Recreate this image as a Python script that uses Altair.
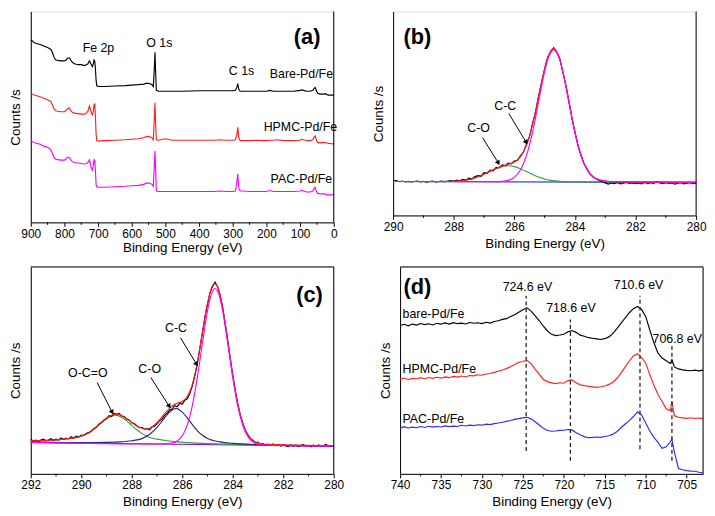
import altair as alt
import pandas as pd

FONT = "Liberation Sans"
W = 306
HA = 213
H1 = 206
H2 = 209

# ---------------- Panel (a): survey spectra ----------------
a_be = [900, 895, 890, 880, 870, 860, 850, 845, 840, 835, 830, 825, 820, 810, 800, 795, 790, 785, 780, 775,
        770, 760, 750, 740, 735, 730, 726, 724, 720, 717, 714, 712, 710, 708, 706, 704, 700, 680, 650, 620,
        600, 580, 565, 555, 545, 540, 536, 533, 531, 529, 527, 520, 500, 480, 450, 400, 350, 340, 320, 300,
        292, 288, 285, 282, 278, 270, 250, 230, 200, 190, 180, 170, 150, 120, 100, 95, 90, 80, 70, 62,
        58, 55, 52, 48, 40, 30, 25, 20, 15, 10, 5, 0]
a_bare = [192, 191, 189, 188, 187, 185.5, 184, 183, 182, 178, 173, 171, 170.5, 170, 170, 171, 173, 173, 170, 168,
          167, 166, 166, 165, 166, 167, 170, 169, 166, 164, 167, 171, 170, 162, 150, 144, 143, 143, 143.5, 144,
          144.5, 145, 145.5, 146.5, 146, 145, 143, 162, 179, 157, 139, 138, 138, 138, 138, 138.5, 138.5, 138.5, 138.5, 138.5,
          139, 142, 146, 140, 138, 138, 138, 138, 138, 139, 138, 138, 138, 138, 139, 139.5, 139, 138, 138, 139,
          141, 142, 139, 136, 135, 135, 135.5, 134.5, 134, 134, 134, 134]
a_hpmc = [136, 135, 134, 133, 132, 130.5, 129, 128, 127, 123, 119, 117.5, 117, 116.5, 116.5, 118, 120, 120.5, 117, 115.5,
          115, 114.5, 114, 114, 115, 117, 122.5, 121, 115, 113, 117, 124, 124.5, 112, 93, 86, 85.5, 86, 86.5, 87,
          87.5, 88, 89, 90.5, 90, 89, 87, 110, 126, 103, 87, 86.5, 88, 86.5, 86.5, 86.5, 86.5, 87, 86.5, 86.5,
          87, 92, 100, 89, 86, 86, 86, 86.5, 86, 86.5, 86.5, 87, 86, 86, 86.5, 87.5, 87, 86, 86, 87,
          90, 91, 87, 84, 84, 84, 84, 83.5, 83, 83, 82.5, 83]
a_pac = [86, 85, 84, 83, 82, 80, 79, 78, 76, 72, 68, 66.5, 66, 65.5, 65.5, 67, 68.5, 68, 65, 63.5,
         63, 62.5, 62, 61.5, 62, 63, 66, 64, 57, 55, 60, 66, 65.5, 55, 40, 37.5, 37, 37, 37.5, 38,
         38.5, 39, 40, 41.5, 41, 40, 38, 60, 75, 55, 33, 32.5, 32.5, 32.5, 32.5, 32.5, 32.5, 33, 32.5, 32.5,
         33, 42, 51, 36, 33, 33, 32.5, 32.5, 32.5, 33.5, 32.5, 32.5, 32.5, 32.5, 33, 34, 33, 32, 32, 33,
         36, 37, 33, 30.5, 30, 30, 30, 29, 29, 29, 29, 29.5]
a_ticks = [0, 100, 200, 300, 400, 500, 600, 700, 800, 900]
a_minor = [50, 150, 250, 350, 450, 550, 650, 750, 850]
a_lbl_x = [699, 518, 274, 96, 99, 96]
a_lbl_y = [184, 189, 159, 156, 100, 46]
a_lbl_t = ["Fe 2p", "O 1s", "C 1s", "Bare-Pd/Fe", "HPMC-Pd/Fe", "PAC-Pd/Fe"]

# ---------------- Panel (b): C 1s ----------------
b_data_x = [round(290 - 0.1 * i, 1) for i in range(101)]
b_data_y = [35.8, 36.3, 35.2, 35.9, 35.0, 35.6, 34.9, 35.4, 36.0, 35.1, 35.7, 34.8, 35.5, 35.9, 35.0, 35.4, 36.0, 35.3, 35.8, 36.4, 35.6,
            37.0, 36.2, 37.8, 36.9, 38.9, 38.0, 40.6, 41.5, 40.9, 44.8,
            44.0, 47.3, 46.5, 50.2, 49.6, 52.8, 52.0, 54.6, 53.8, 56.9,
            57.5, 62.3, 66.0, 74.5, 82.0, 95.8, 108.0, 124.5, 139.0, 152.8,
            165.2, 170.6, 175.0, 170.2, 164.0, 149.4, 136.2, 119.8, 101.5, 87.4,
            73.0, 63.5, 54.0, 48.6, 43.2, 40.0, 38.4, 36.5, 35.2, 34.0,
            32.8, 33.9, 33.2, 34.3, 33.0, 33.7, 34.5, 33.4, 34.0, 33.1,
            33.8, 32.9, 34.4, 33.3, 34.1, 33.5, 35.2, 34.0, 33.2, 34.2,
            33.4, 33.9, 32.8, 33.6, 34.2, 33.0, 33.7, 34.3, 33.2, 33.8]
b_env_x = [290, 288.4, 288.0, 287.6, 287.4, 287.2, 287.0, 286.8, 286.6, 286.4, 286.2, 286.0, 285.8, 285.6, 285.4, 285.2,
           285.0, 284.9, 284.8, 284.7, 284.6, 284.5, 284.4, 284.2, 284.0, 283.8, 283.6, 283.4, 283.2, 283.0, 282.8, 282.5, 280]
b_env_y = [35.5, 35.4, 35.7, 36.9, 38.3, 40.4, 43.1, 46.1, 49.1, 51.5, 53.4, 55.7, 61.1, 73.2, 94.6, 123.8,
           153.3, 164.7, 171.9, 174.2, 171.1, 163.0, 150.6, 118.9, 86.8, 62.4, 47.9, 40.4, 37.3, 36.0, 35.4, 35.0, 34.5]
b_cc_x = [290, 286.6, 286.4, 286.2, 286.0, 285.8, 285.6, 285.4, 285.2, 285.0, 284.9, 284.8, 284.7, 284.6, 284.5, 284.4,
          284.2, 284.0, 283.8, 283.6, 283.4, 283.2, 283.0, 282.8, 282.5, 280]
b_cc_y = [35.5, 35.3, 35.6, 36.6, 39.8, 47.4, 62.4, 86.8, 118.7, 150.3, 162.4, 170.3, 173.0, 170.3, 162.4, 150.3,
          118.7, 86.8, 62.4, 47.9, 40.4, 37.3, 36.0, 35.4, 35.0, 34.5]
b_co_x = [290, 288.4, 288.2, 288.0, 287.8, 287.6, 287.4, 287.2, 287.0, 286.8, 286.6, 286.4, 286.2, 286.0, 285.8, 285.6,
          285.4, 285.2, 285.0, 284.8, 284.6, 284.4, 284.0, 280]
b_co_y = [35.5, 35.35, 35.45, 35.66, 36.1, 36.9, 38.3, 40.4, 43.1, 46.1, 49.0, 51.1, 51.9, 51.0, 48.8, 45.9,
          42.8, 40.1, 38.0, 36.6, 35.8, 35.3, 35.0, 34.5]
b_base_x = [290, 280]
b_base_y = [35.5, 34.5]
b_ticks = [280, 282, 284, 286, 288, 290]
b_minor = [281, 283, 285, 287, 289]
b_lbl_x = [286.3, 287.18]
b_lbl_y = [114, 91]
b_lbl_t = ["C-C", "C-O"]
b_arr_x = [286.18, 287.05]
b_arr_y = [106.3, 81.3]
b_arr_x2 = [285.62, 286.54]
b_arr_y2 = [77.0, 55.5]
b_head_ang = [150, 152]

# ---------------- Panel (c): C 1s ----------------
c_data_x = [round(292 - 0.1 * i, 1) for i in range(121)]
c_data_y = [34.5, 33.0, 33.8, 32.6, 33.9, 34.8, 33.2, 34.0, 35.3, 33.6, 34.9,
            34.0, 36.2, 34.6, 36.0, 35.1, 37.4, 36.0, 37.8, 36.9, 39.0,
            38.4, 40.9, 41.4, 43.0, 45.6, 47.0, 50.1, 51.5, 53.9, 55.6,
            58.4, 57.8, 60.9, 59.6, 60.7, 58.1, 57.7, 55.0, 54.2, 51.3,
            50.6, 48.4, 46.4, 46.8, 44.9, 45.6, 44.3, 47.1, 47.9, 50.2,
            53.4, 55.0, 59.0, 60.8, 64.3, 65.2, 68.6, 67.5, 70.8, 70.2,
            73.9, 75.5, 81.0, 88.2, 98.6, 111.0, 126.4, 141.5, 157.8, 170.2,
            182.3, 188.4, 192.6, 188.0, 179.6, 167.5, 151.0, 134.6, 116.3, 99.4,
            83.6, 70.5, 58.9, 50.9, 43.6, 39.5, 35.4, 33.8, 31.4, 31.9,
            29.6, 30.4, 28.7, 29.9, 28.5, 30.1, 28.2, 29.5, 27.9, 29.3,
            28.1, 27.4, 29.0, 27.7, 28.9, 27.3, 28.6, 29.4, 27.8, 28.5,
            27.2, 28.8, 27.6, 29.1, 27.9, 28.4, 29.6, 27.5, 28.3, 27.4]
c_env_x = [292.0, 291.8, 291.6, 291.4, 291.2, 291.0, 290.8, 290.6, 290.4, 290.2,
           290.0, 289.8, 289.6, 289.4, 289.2, 289.0, 288.8, 288.6, 288.4, 288.2,
           288.0, 287.8, 287.6, 287.4, 287.2, 287.0, 286.8, 286.6, 286.4, 286.2,
           286.0, 285.8, 285.6, 285.4, 285.2, 285.0, 284.8, 284.7, 284.6, 284.4,
           284.2, 284.0, 283.8, 283.6, 283.4, 283.2, 283.0, 282.8, 282.6, 282.4,
           282.2, 282.0, 281.6, 281.2, 280.8, 280.4, 280.0]
c_env_y = [33.2, 33.3, 33.4, 33.65, 33.8, 34.2, 34.6, 35.2, 35.97, 36.7,
           38.1, 40.1, 43.35, 47.4, 52.0, 56.15, 58.9, 60.1, 58.5, 55.5,
           51.7, 48.1, 45.9, 45.0, 47.3, 51.5, 57.3, 63.3, 68.2, 70.9,
           72.8, 77.7, 90.0, 112.4, 142.5, 171.5, 189.3, 191.1, 188.0, 167.2,
           134.0, 99.0, 70.0, 50.25, 38.8, 33.3, 31.0, 30.0, 29.6, 29.4,
           29.2, 29.1, 28.9, 28.7, 28.6, 28.4, 28.2]
c_oco_x = [292, 291.5, 291, 290.5, 290.2, 290, 289.8, 289.6, 289.4, 289.2, 289.0, 288.8, 288.65, 288.4, 288.2,
           288.0, 287.8, 287.6, 287.4, 287.2, 287.0, 286.6, 286.2, 285.6, 285, 284, 283, 282, 280]
c_oco_y = [33.0, 33.3, 34.0, 35.3, 36.4, 37.8, 39.7, 42.9, 46.9, 51.4, 55.5, 58.0, 59.1, 56.8, 53.3,
           48.8, 44.3, 40.7, 37.8, 36.0, 34.9, 33.3, 32.2, 31.1, 30.5, 29.7, 29.2, 28.75, 28.0]
c_co_x = [292, 290, 289, 288.5, 288.0, 287.6, 287.3, 287.0, 286.8, 286.6, 286.4, 286.25, 286.0, 285.8, 285.6,
          285.4, 285.2, 285.0, 284.8, 284.5, 284.0, 283.0, 282, 280]
c_co_y = [31.9, 31.4, 31.65, 32.1, 33.3, 35.4, 39.5, 46.6, 53.1, 59.6, 64.1, 65.8, 62.1, 56.2, 49.4,
          43.3, 38.8, 35.5, 33.7, 32.1, 30.6, 29.3, 28.65, 27.9]
c_cc_x = [292, 287, 286.4, 286.2, 286.0, 285.8, 285.6, 285.4, 285.2, 285.0, 284.9, 284.8, 284.7, 284.6, 284.5,
          284.4, 284.2, 284.0, 283.8, 283.6, 283.4, 283.2, 283.0, 282.6, 280]
c_cc_y = [31.7, 30.0, 31.0, 33.1, 38.3, 49.3, 68.7, 97.2, 131.6, 163.9, 175.9, 183.6, 186.3, 183.5, 175.8,
          163.7, 131.3, 96.7, 68.1, 48.6, 37.4, 32.1, 29.9, 28.7, 27.7]
c_base_x = [292, 280]
c_base_y = [31.7, 27.7]
c_ticks = [280, 282, 284, 286, 288, 290, 292]
c_minor = [281, 283, 285, 287, 289, 291]
c_lbl_x = [286.25, 287.29, 289.74]
c_lbl_y = [146.7, 105.7, 101.7]
c_lbl_t = ["C-C", "C-O", "O-C=O"]
c_arr_x = [286.07, 287.24, 289.37]
c_arr_y = [136.7, 96.7, 91.7]
c_arr_x2 = [285.45, 286.53, 288.79]
c_arr_y2 = [110.9, 68.5, 62.6]
c_head_ang = [148, 147, 152]

# ---------------- Panel (d): Fe 2p ----------------
d_be = [740, 739.5, 739, 738.5, 738, 737.5, 737, 736.5, 736, 735.5, 735, 734.5, 734, 733.5, 733, 732.5, 732, 731.5,
        731, 730.5, 730, 729.5, 729, 728.5, 728, 727.5, 727, 726.5, 726, 725.5, 725, 724.5, 724, 723.5, 723, 722.5,
        722, 721.5, 721, 720.5, 720, 719.5, 719, 718.5, 718, 717.5, 717, 716.5, 716, 715.5, 715, 714.5, 714, 713.5,
        713, 712.5, 712, 711.5, 711, 710.5, 710, 709.5, 709, 708.5, 708, 707.5, 707, 706.8, 706.5, 706, 705.5, 705,
        704.5, 704, 703.5, 703]
d_bare = [150.5, 151.8, 150.2, 152.0, 151.0, 152.6, 151.4, 152.3, 151.1, 152.8,
          151.9, 153.2, 152.0, 153.5, 152.4, 153.0, 152.1, 153.6, 152.8, 153.3,
          152.5, 153.8, 153.0, 154.6, 155.4, 156.8, 157.5, 159.6, 161.4, 164.0,
          166.5, 168.5, 165.2, 160.4, 155.6, 149.8, 145.0, 141.6, 140.3, 140.9,
          141.7, 144.2, 145.4, 143.6, 140.8, 139.6, 138.2, 137.6, 137.0, 136.4,
          137.2, 139.0, 142.5, 147.6, 153.0, 158.4, 163.5, 167.6, 169.8, 166.8,
          159.5, 146.0, 133.0, 122.5, 117.5, 114.8, 112.0, 115.8, 108.5, 106.5,
          105.5, 105.0, 104.6, 105.2, 104.5, 105.3]
d_hpmc = [96.0, 97.2, 95.8, 96.9, 96.3, 97.6, 96.5, 97.8, 96.9, 98.0,
          97.1, 98.4, 97.6, 98.9, 98.2, 99.3, 98.6, 99.8, 99.4, 100.6,
          100.1, 101.4, 101.8, 103.0, 104.2, 105.4, 106.8, 108.8, 110.9, 113.2,
          114.0, 115.2, 111.8, 106.0, 101.0, 95.8, 93.6, 92.3, 91.6, 92.4,
          92.0, 94.6, 95.3, 92.4, 90.3, 89.6, 88.8, 88.3, 87.8, 88.4,
          89.2, 90.8, 93.0, 97.0, 102.5, 108.6, 114.5, 119.6, 122.0, 118.0,
          112.6, 100.5, 90.0, 80.5, 73.5, 66.0, 64.2, 73.5, 59.0, 57.5,
          56.8, 56.3, 56.9, 56.2, 56.7, 56.0]
d_pac = [46.7, 47.9, 46.5, 47.4, 46.8, 48.0, 47.1, 48.3, 47.4, 48.0,
         47.6, 48.7, 47.9, 48.5, 48.1, 49.3, 48.6, 49.5, 49.0, 49.8,
         49.4, 50.5, 50.0, 51.0, 51.6, 52.4, 53.3, 54.2, 55.3, 56.0,
         56.8, 57.4, 55.8, 52.8, 49.6, 46.2, 44.0, 43.2, 43.5, 44.1,
         44.3, 45.0, 44.6, 41.8, 39.6, 37.8, 36.7, 37.0, 37.4, 37.0,
         37.9, 38.6, 40.3, 43.0, 47.0, 50.6, 54.0, 58.2, 63.0, 59.5,
         51.5, 43.5, 37.0, 32.0, 26.0, 27.5, 32.5, 35.0, 22.0, 5.5,
         4.2, 3.3, 2.8, 2.6, 1.6, 0.8]
d_ticks = [705, 710, 715, 720, 725, 730, 735, 740]
d_minor = [707.5, 712.5, 717.5, 722.5, 727.5, 732.5, 737.5]
d_dash_x = [724.6, 719.2, 710.7, 706.8]
d_dash_y1 = [23.3, 13.3, 25.0, 13.3]
d_dash_y2 = [180.7, 156.7, 180.7, 131.7]
d_peak_x = [724.44, 719.13, 710.87, 706.15]
d_peak_y = [189.3, 168.3, 191.7, 136.7]
d_peak_t = ["724.6 eV", "718.6 eV", "710.6 eV", "706.8 eV"]
d_ser_x = [739.7, 739.7, 739.7]
d_ser_y = [161.7, 106.0, 55.7]
d_ser_t = ["bare-Pd/Fe", "HPMC-Pd/Fe", "PAC-Pd/Fe"]

BLACK = "#000000"
RED = "#ff1f1f"
MAG = "#ff00ff"
GREEN = "#3c9a3c"
NAVY = "#22229a"
BLUE = "#2a2aff"
PURPLE = "#7a10e0"
LW = 1.15


def xenc(dom, ticks, tpad=4):
    return alt.X("x:Q", scale=alt.Scale(domain=dom, reverse=True, nice=False, zero=False),
                 axis=alt.Axis(values=ticks, format="d", title="Binding Energy (eV)", grid=False,
                               tickSize=4, tickColor="black", domainColor="black", labelColor="black",
                               titleColor="black", labelFont=FONT, titleFont=FONT, labelFontSize=12,
                               titleFontSize=13.5, titleFontWeight="normal", labelPadding=2,
                               titlePadding=tpad, labelFlush=False, labelOverlap=False))


def yenc(dom):
    return alt.Y("y:Q", scale=alt.Scale(domain=dom, nice=False, zero=False),
                 axis=alt.Axis(title="Counts /s", labels=False, ticks=False, grid=False,
                               domainColor="black", titleColor="black", titleFont=FONT,
                               titleFontSize=13.5, titleFontWeight="normal", titlePadding=8))


def line(xs, ys, color, X, Y, interp="linear", sw=LW):
    df = pd.DataFrame({"x": xs, "y": ys})
    return alt.Chart(df).mark_line(color=color, strokeWidth=sw, interpolate=interp).encode(x=X, y=Y)


def texts(xs, ys, ts, X, Y, size=12.5, align="center", bold=False):
    df = pd.DataFrame({"x": xs, "y": ys, "t": ts})
    return alt.Chart(df).mark_text(font=FONT, fontSize=size, align=align, baseline="middle",
                                   color="black", fontWeight="bold" if bold else "normal").encode(
        x=X, y=Y, text="t:N")


def arrows(x1, y1, x2, y2, ang, X, Y):
    df = pd.DataFrame({"x": x1, "y": y1, "x2": x2, "y2": y2, "a": ang})
    shaft = alt.Chart(df).mark_rule(color="black", strokeWidth=1).encode(
        x=X, y=Y, x2="x2:Q", y2="y2:Q")
    df2 = pd.DataFrame({"x": x2, "y": y2, "a": ang})
    head = alt.Chart(df2).mark_point(shape="triangle", filled=True, size=30, color="black",
                                     opacity=1).encode(x=X, y=Y, angle=alt.Angle("a:Q", scale=None))
    return [shaft, head]


def frame(X, minor, w, h, top):
    one = pd.DataFrame({"d": [0]})
    parts = [alt.Chart(one).mark_rule(color="black", strokeWidth=1).encode(
        x=alt.value(w), y=alt.value(0), y2=alt.value(h))]
    if top:
        parts.append(alt.Chart(one).mark_rule(color="black", strokeWidth=1).encode(
            x=alt.value(0), x2=alt.value(w), y=alt.value(0)))
    parts.append(alt.Chart(pd.DataFrame({"x": minor})).mark_rule(color="black", strokeWidth=1).encode(
        x=X, y=alt.value(h), y2=alt.value(h + 2.5)))
    return parts


# ---- build (a)
Xa = xenc([0, 900], a_ticks, tpad=1)
Ya = yenc([0, 222])
pa = alt.layer(
    line(a_be, a_bare, BLACK, Xa, Ya),
    line(a_be, a_hpmc, RED, Xa, Ya),
    line(a_be, a_pac, MAG, Xa, Ya),
    texts(a_lbl_x, a_lbl_y, a_lbl_t, Xa, Ya),
    texts([79], [195], ["(a)"], Xa, Ya, size=22, bold=True),
    *frame(Xa, a_minor, W, HA, False),
).properties(width=W, height=HA)

# ---- build (b)
Xb = xenc([280, 290], b_ticks)
Yb = yenc([0, 213])
pb = alt.layer(
    line(b_base_x, b_base_y, "#3b3bff", Xb, Yb),
    line(b_co_x, b_co_y, GREEN, Xb, Yb, "monotone"),
    line(b_data_x, b_data_y, BLACK, Xb, Yb),
    line(b_env_x, b_env_y, RED, Xb, Yb, "monotone"),
    line(b_cc_x, b_cc_y, MAG, Xb, Yb, "monotone"),
    texts(b_lbl_x, b_lbl_y, b_lbl_t, Xb, Yb),
    texts([289.2], [186], ["(b)"], Xb, Yb, size=22, bold=True),
    *arrows(b_arr_x, b_arr_y, b_arr_x2, b_arr_y2, b_head_ang, Xb, Yb),
    *frame(Xb, b_minor, W, H1, False),
).properties(width=W, height=H1)

# ---- build (c)
Xc = xenc([280, 292], c_ticks)
Yc = yenc([0, 208])
pc = alt.layer(
    line(c_base_x, c_base_y, PURPLE, Xc, Yc),
    line(c_oco_x, c_oco_y, GREEN, Xc, Yc, "monotone"),
    line(c_co_x, c_co_y, NAVY, Xc, Yc, "monotone"),
    line(c_data_x, c_data_y, BLACK, Xc, Yc),
    line(c_env_x, c_env_y, RED, Xc, Yc, "monotone"),
    line(c_cc_x, c_cc_y, MAG, Xc, Yc, "monotone"),
    texts(c_lbl_x, c_lbl_y, c_lbl_t, Xc, Yc),
    texts([280.96], [180], ["(c)"], Xc, Yc, size=22, bold=True),
    *arrows(c_arr_x, c_arr_y, c_arr_x2, c_arr_y2, c_head_ang, Xc, Yc),
    *frame(Xc, c_minor, W, H2, True),
).properties(width=W, height=H2)

# ---- build (d)
Xd = xenc([703, 740], d_ticks)
Yd = yenc([0, 210])
dash_df = pd.DataFrame({"x": d_dash_x, "y": d_dash_y1, "y2": d_dash_y2})
pd_ = alt.layer(
    line(d_be, d_bare, BLACK, Xd, Yd),
    line(d_be, d_hpmc, RED, Xd, Yd),
    line(d_be, d_pac, BLUE, Xd, Yd),
    alt.Chart(dash_df).mark_rule(color="#222222", strokeWidth=1.3, strokeDash=[4, 3]).encode(
        x=Xd, y=Yd, y2="y2:Q"),
    texts(d_peak_x, d_peak_y, d_peak_t, Xd, Yd),
    texts(d_ser_x, d_ser_y, d_ser_t, Xd, Yd, align="left"),
    texts([737.9], [189.3], ["(d)"], Xd, Yd, size=22, bold=True),
    *frame(Xd, d_minor, W, H2, True),
).properties(width=W, height=H2)

chart = alt.vconcat(
    alt.hconcat(pa, pb, spacing=33),
    alt.hconcat(pc, pd_, spacing=33),
    spacing=12,
).properties(padding=0, background="white").configure_view(stroke=None).configure(font=FONT)

chart.save("out.html", embed_options={"renderer": "svg", "actions": False})
